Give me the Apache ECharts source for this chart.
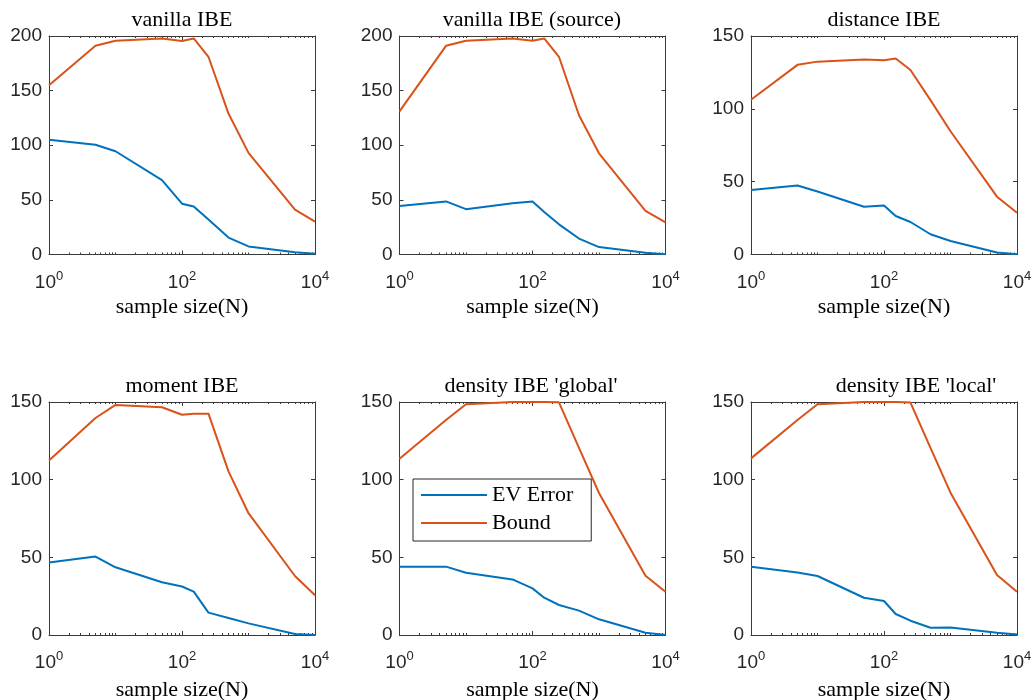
<!DOCTYPE html>
<html>
<head>
<meta charset="utf-8">
<script src="https://cdn.jsdelivr.net/npm/echarts@6/dist/echarts.min.js"></script>
<style>
html,body{margin:0;padding:0;background:#fff}
#main{width:1034px;height:700px}
</style>
</head>
<body>
<div id="main"></div>
<script>
// sample sizes (x)
var sizes = [1, 5, 10, 50, 100, 150, 250, 500, 1000, 5000, 10000];

var titles = ["vanilla IBE", "vanilla IBE (source)", "distance IBE",
              "moment IBE", "density IBE 'global'", "density IBE 'local'"];

// EV Error per panel
var errVanilla   = [105, 100.5, 94.5, 68, 46.5, 44, 32, 15.5, 7.4, 2, 0.6];
var errSource    = [44.3, 48.6, 41.5, 47, 48.6, 39, 27.6, 14.6, 6.8, 1.5, 0.3];
var errDistance  = [44.2, 47.4, 43.3, 32.8, 33.7, 26.4, 22.3, 13.9, 9.3, 1.4, 0.2];
var errMoment    = [46.6, 50.5, 43.6, 34, 31.2, 27.9, 14.4, 11, 7.5, 0.6, 0];
var errGlobal    = [44, 44, 40.1, 35.8, 30, 24, 19.3, 15.7, 10.1, 1.5, 0];
var errLocal     = [44, 40.3, 38, 24, 21.9, 13.5, 9.2, 4.7, 4.9, 1.5, 0.4];

// Bound per panel
var bndVanilla   = [155, 191, 195.7, 197.8, 195.4, 197.8, 181, 129, 93, 41, 30];
var bndSource    = [131, 191, 195.7, 197.8, 195.7, 197.8, 181, 127.5, 92.6, 40, 29.4];
var bndDistance  = [106.2, 130.2, 132.4, 133.8, 133.3, 134.5, 126.7, 106, 84.6, 39.7, 28.7];
var bndMoment    = [112.4, 139.7, 148.1, 146.6, 141.8, 142.5, 142.5, 105.3, 78.4, 38, 25.6];
var bndGlobal    = [113.5, 138.4, 148.5, 150, 150, 150, 149.8, 120.5, 91.4, 38.2, 27.9];
var bndLocal     = [113.7, 138.4, 148.5, 150, 150, 150, 149.6, 120.5, 91.6, 38.6, 27.9];

var errAll = [errVanilla, errSource, errDistance, errMoment, errGlobal, errLocal];
var bndAll = [bndVanilla, bndSource, bndDistance, bndMoment, bndGlobal, bndLocal];

var yMax = [200, 200, 150, 150, 150, 150];
var yStep = 50;
var xMajor = [1, 100, 10000];

var xMinor = [];
for (var d = 1; d < 10000; d *= 10) {
    for (var k = 2; k <= 10; k++) {
        if (d * k !== 100 && d * k !== 10000) xMinor.push(d * k);
    }
}

var colLeft = [49, 399.5, 751];
var colWidth = 266;
var rowTop = [36, 402];
var rowHeight = [218.5, 233];
var nameGaps = [42, 44];
var titleCenter = [182, 532, 884, 182, 531, 916];
var titleTop = [8, 374];

var axisColor = "#3a3a3a";
var blue = "#0072BD", orange = "#D95319";

var grid = [], xAxis = [], yAxis = [], series = [], title = [];

function pair(arr) {
    return sizes.map(function (s, i) { return [s, arr[i]]; });
}

for (var g = 0; g < 6; g++) {
    var r = Math.floor(g / 3), c = g % 3;
    grid.push({left: colLeft[c], top: rowTop[r], width: colWidth, height: rowHeight[r], outerBoundsMode: "none"});

    title.push({
        text: titles[g], left: titleCenter[g], top: titleTop[r], textAlign: "center", padding: 0,
        textStyle: {fontFamily: "Liberation Serif", fontSize: 22, fontWeight: "normal", color: "#000", lineHeight: 24}
    });

    var base = {type: "log", logBase: 10, min: 1, max: 10000, gridIndex: g, splitLine: {show: false}};

    xAxis.push(Object.assign({}, base, {
        position: "bottom",
        axisLine: {show: true, lineStyle: {color: axisColor, width: 1}},
        axisTick: {show: true, inside: true, length: 4, customValues: xMajor, lineStyle: {color: axisColor}},
        axisLabel: {
            show: true, customValues: xMajor, margin: 15, color: "#262626",
            fontFamily: "Liberation Sans", fontSize: 19,
            formatter: function (v) {
                return "{b|10}{s|" + Math.round(Math.log(v) / Math.LN10) + "}";
            },
            rich: {
                b: {fontFamily: "Liberation Sans", fontSize: 19, color: "#262626"},
                s: {fontFamily: "Liberation Sans", fontSize: 13, color: "#262626", padding: [0, 0, 13, 0]}
            }
        },
        name: "sample size(N)", nameLocation: "middle", nameGap: nameGaps[r],
        nameTextStyle: {fontFamily: "Liberation Serif", fontSize: 22, color: "#000"}
    }));
    xAxis.push(Object.assign({}, base, {
        position: "bottom",
        axisLine: {show: false},
        axisTick: {show: true, inside: true, length: 2, customValues: xMinor, lineStyle: {color: axisColor}},
        axisLabel: {show: false}
    }));
    xAxis.push(Object.assign({}, base, {
        position: "top",
        axisLine: {show: true, lineStyle: {color: axisColor, width: 1}},
        axisTick: {show: true, inside: true, length: 4, customValues: xMajor, lineStyle: {color: axisColor}},
        axisLabel: {show: false}
    }));
    xAxis.push(Object.assign({}, base, {
        position: "top",
        axisLine: {show: false},
        axisTick: {show: true, inside: true, length: 2, customValues: xMinor, lineStyle: {color: axisColor}},
        axisLabel: {show: false}
    }));

    yAxis.push({
        type: "value", gridIndex: g, min: 0, max: yMax[g], interval: yStep, position: "left",
        splitLine: {show: false},
        axisLine: {show: true, lineStyle: {color: axisColor, width: 1}},
        axisTick: {show: true, inside: true, length: 4, lineStyle: {color: axisColor}},
        axisLabel: {show: true, margin: 7, color: "#262626", fontFamily: "Liberation Sans", fontSize: 19,
                    showMinLabel: true, showMaxLabel: true}
    });
    yAxis.push({
        type: "value", gridIndex: g, min: 0, max: yMax[g], interval: yStep, position: "right",
        splitLine: {show: false},
        axisLine: {show: true, lineStyle: {color: axisColor, width: 1}},
        axisTick: {show: true, inside: true, length: 4, lineStyle: {color: axisColor}},
        axisLabel: {show: false}
    });

    series.push({
        name: "EV Error", type: "line", xAxisIndex: g * 4, yAxisIndex: g * 2,
        data: pair(errAll[g]), symbol: "none", silent: true, animation: false,
        lineStyle: {color: blue, width: 2}, itemStyle: {color: blue}
    });
    series.push({
        name: "Bound", type: "line", xAxisIndex: g * 4, yAxisIndex: g * 2,
        data: pair(bndAll[g]), symbol: "none", silent: true, animation: false,
        lineStyle: {color: orange, width: 2}, itemStyle: {color: orange}
    });
}

var myChart = echarts.init(document.getElementById("main"));
myChart.setOption({
    backgroundColor: "#fff",
    animation: false,
    title: title,
    grid: grid,
    xAxis: xAxis,
    yAxis: yAxis,
    legend: {
        data: ["EV Error", "Bound"], orient: "vertical", left: 413, top: 479,
        icon: "rect", itemWidth: 66, itemHeight: 2, itemGap: 6, padding: [5, 18, 7, 8],
        backgroundColor: "#fff", borderColor: "#262626", borderWidth: 1, borderRadius: 0,
        selectedMode: false,
        textStyle: {fontFamily: "Liberation Serif", fontSize: 22, color: "#000"}
    },
    series: series
});
</script>
</body>
</html>
